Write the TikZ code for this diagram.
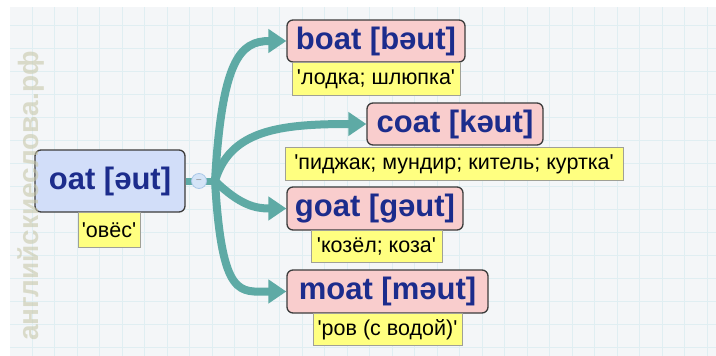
\documentclass[tikz,border=0pt]{standalone}
\usepackage{fontspec}
\setmainfont{Liberation Sans}
\newfontfamily\trfont{Liberation Sans}[Ligatures=TeXOff]
\usetikzlibrary{arrows.meta}
\definecolor{bgfill}{RGB}{244,246,248}
\definecolor{gridc}{RGB}{224,238,242}
\definecolor{tealc}{RGB}{94,170,165}
\definecolor{oatfill}{RGB}{210,222,249}
\definecolor{pinkfill}{RGB}{249,205,205}
\definecolor{boxborder}{RGB}{60,60,60}
\definecolor{txtblue}{RGB}{28,44,140}
\definecolor{yfill}{RGB}{255,255,128}
\definecolor{yborder}{RGB}{160,160,150}
\definecolor{btnfill}{RGB}{212,228,247}
\definecolor{btnborder}{RGB}{170,200,232}
\definecolor{wmark}{RGB}{200,200,170}
\tikzset{
  mainbox/.style={draw=boxborder, line width=1.3pt, rounded corners=6pt,
    font=\bfseries\fontsize{31}{32}\selectfont, text=txtblue, inner sep=0pt},
  trbox/.style={draw=yborder, fill=yfill, line width=0.8pt,
    font=\trfont\fontsize{21.5}{23}\selectfont, text=black, inner sep=0pt, anchor=north},
  link/.style={draw=tealc, line width=8pt,
    -{Triangle[length=18pt,width=23pt]}},
}
\begin{document}
\begin{tikzpicture}[x=1pt,y=-1pt]
\useasboundingbox (0,0) rectangle (716,356);
\fill[white] (0,0) rectangle (716,356);
\fill[bgfill] (10,7) rectangle (716,356);
\foreach \k in {1,...,31} \draw[gridc, line width=1pt] ({9.5+22.5*\k},7) -- ({9.5+22.5*\k},356);
\foreach \k in {1,...,15} \draw[gridc, line width=1pt] (10,{2+23*\k}) -- (716,{2+23*\k});

% main nodes
\node[mainbox, fill=oatfill, minimum width=150pt, minimum height=62pt] (oat) at (110,181) {oat [əut]};
\node[mainbox, fill=pinkfill, minimum width=178pt, minimum height=42pt] (boat) at (376,41) {boat [bəut]};
\node[mainbox, fill=pinkfill, minimum width=176pt, minimum height=42pt] (coat) at (455,124) {coat [kəut]};
\node[mainbox, fill=pinkfill, minimum width=176pt, minimum height=43pt] (goat) at (375,208.5) {goat [gəut]};
\node[mainbox, fill=pinkfill, minimum width=201pt, minimum height=43pt] (moat) at (387.5,291.5) {moat [məut]};

% translations
\node[trbox, minimum width=62pt, minimum height=35pt] (toat) at (109,212) {'овёс'};
\node[trbox, minimum width=168pt, minimum height=33pt] (tboat) at (376,62) {'лодка; шлюпка'};
\node[trbox, minimum width=338pt, minimum height=33pt] (tcoat) at (454,147) {'пиджак; мундир; китель; куртка'};
\node[trbox, minimum width=131pt, minimum height=32pt] (tgoat) at (376.5,230) {'козёл; коза'};
\node[trbox, minimum width=149pt, minimum height=32pt] (tmoat) at (387.5,313) {'ров (с водой)'};

% connectors
\coordinate (J) at (215,181);
\draw[tealc, line width=7pt] (oat.east) -- (J);
\draw[link] (J) .. controls (222,60) and (240,41) .. (boat.west);
\draw[link] (J) .. controls (230,130) and (280,124) .. (coat.west);
\draw[link] (J) .. controls (240,205) and (255,208.5) .. (goat.west);
\draw[link] (J) .. controls (222,300) and (240,291.5) .. (moat.west);
\node[circle, fill=btnfill, draw=btnborder, line width=0.8pt, minimum size=15pt, inner sep=0pt,
  text=gray, font=\fontsize{9}{9}\selectfont] (btn) at (199,181) {–};

% watermark
\node[rotate=90, text=wmark, opacity=0.6, font=\bfseries\fontsize{28}{28}\selectfont] (wm) at (31,196) {английскиеслова.рф};
\end{tikzpicture}
\end{document}
